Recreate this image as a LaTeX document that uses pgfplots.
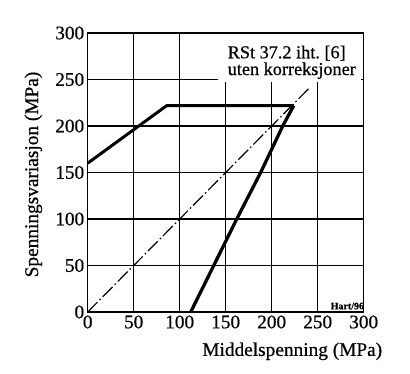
\documentclass[border=0pt]{standalone}
\usepackage{fontspec}
\setmainfont{Liberation Serif}[FakeBold=0.6]
\usepackage{pgfplots}
\pgfplotsset{compat=1.18}
\begin{document}
\begin{tikzpicture}
\useasboundingbox (-87.7bp,-62bp) rectangle (322.3bp,312bp);
\begin{axis}[
  at={(0,0)}, anchor=south west,
  scale only axis, width=276bp, height=279bp,
  xmin=0, xmax=300, ymin=0, ymax=300,
  xtick={0,50,...,300}, ytick={0,50,...,300},
  grid=major,
  grid style={black, line width=1.3pt},
  axis line style={black, line width=1.3pt},
  major tick length=0pt,
  /pgf/number format/assume math mode=true,
  tick label style={font=\fontsize{19.3}{19}\selectfont},
  xlabel={Middelspenning (MPa)},
  ylabel={Spenningsvariasjon (MPa)},
  label style={font=\fontsize{19.4}{19}\selectfont},
  xlabel style={at={(rel axis cs:1,0)}, anchor=north east, xshift=22bp, yshift=-27bp},
  ylabel style={at={(rel axis cs:0,0.5)}, anchor=south, yshift=42bp, xshift=-2bp},
]
\addplot[black, line width=1.2pt, dash pattern=on 14pt off 3pt on 1.5pt off 3pt] coordinates {(0,0) (240,240)};
\addplot[black, line width=3pt] coordinates {(0,160) (86,222) (224,222)};
\addplot[black, line width=3.3pt, line join=round] coordinates {(112,0) (137,50) (162,100) (188,150) (212,200) (224,222)};
\fill[white] (axis cs:142,247.5) rectangle (axis cs:297,299.2);
\node[anchor=base west, inner sep=0pt, font=\fontsize{18.3}{18}\selectfont] at (axis cs:152,272.8) {RSt 37.2 iht.\ [6]};
\node[anchor=base west, inner sep=0pt, font=\fontsize{18.3}{18}\selectfont] at (axis cs:152,254.8) {uten korreksjoner};
\node[anchor=base east, inner sep=0pt, font=\fontsize{10}{10}\selectfont\bfseries] at (axis cs:300.5,2.9) {Hart/96};
\end{axis}
\end{tikzpicture}
\end{document}
